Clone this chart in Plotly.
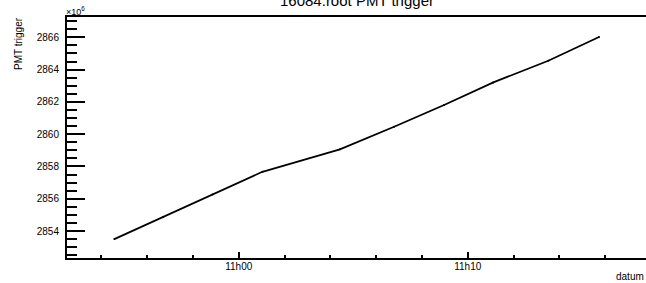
import plotly.graph_objects as go

# data (PMT trigger counts, in units of 1e6)
times = ["2013-01-01 10:54:34", "2013-01-01 10:56:41", "2013-01-01 10:58:51",
         "2013-01-01 11:01:02", "2013-01-01 11:04:25", "2013-01-01 11:06:47",
         "2013-01-01 11:08:58", "2013-01-01 11:11:07", "2013-01-01 11:13:31",
         "2013-01-01 11:15:44"]
trigger_millions = [2853.50, 2854.85, 2856.27, 2857.67, 2859.06, 2860.46,
                    2861.81, 2863.21, 2864.55, 2866.02]

title_text = "16084.root PMT trigger"
x_title = "datum"
y_title = "PMT trigger"

FONT = "Liberation Sans, Arial, Helvetica, sans-serif"

fig = go.Figure()
fig.add_trace(go.Scatter(
    x=times, y=trigger_millions, mode="lines+markers",
    line=dict(color="black", width=1.8),
    marker=dict(color="black", size=2),
    showlegend=False, hoverinfo="skip",
))

W, H = 646, 283
ml, mr, mt, mb = 67, 0, 17, 25
ph = H - mt - mb

fig.update_layout(
    width=W, height=H,
    margin=dict(l=ml, r=mr, t=mt, b=mb, pad=0, autoexpand=False),
    paper_bgcolor="white", plot_bgcolor="white",
    font=dict(family=FONT, size=10, color="black"),
    xaxis=dict(
        type="date", automargin=False,
        range=["2013-01-01 10:52:30", "2013-01-01 11:17:47"],
        tick0="2013-01-01 11:00:00", dtick=600000,
        tickformat="%Hh%M",
        ticks="inside", ticklen=6, tickwidth=2, tickcolor="black",
        minor=dict(dtick=120000, ticks="inside", ticklen=3, tickwidth=2, tickcolor="black"),
        showline=True, linecolor="black", linewidth=2, mirror=True,
        showgrid=False, zeroline=False,
        tickfont=dict(size=10),
        ticklabelstandoff=-2,
    ),
    yaxis=dict(
        automargin=False,
        range=[2852.33, 2867.26],
        tick0=2854, dtick=2,
        ticks="inside", ticklen=18, tickwidth=2, tickcolor="black",
        minor=dict(dtick=0.5, ticks="inside", ticklen=10, tickwidth=2, tickcolor="black"),
        showline=True, linecolor="black", linewidth=2,
        showgrid=False, zeroline=False,
        tickfont=dict(size=10),
        ticklabelstandoff=4,
    ),
    annotations=[
        dict(text=title_text, xref="paper", yref="paper", x=0.5,
             y=(H - mb - 0.5) / ph, xanchor="center", yanchor="middle",
             showarrow=False, font=dict(size=15)),
        dict(text=x_title, xref="paper", yref="paper", x=1.0,
             y=(H - mb - 276) / ph, xanchor="right", yanchor="middle",
             showarrow=False, font=dict(size=10)),
        dict(text=y_title, xref="paper", yref="paper",
             x=(18 - ml) / (W - ml - mr), y=(H - mb - 44) / ph,
             xanchor="center", yanchor="middle", textangle=-90,
             showarrow=False, font=dict(size=10)),
        dict(text="\u00d710<sup>6</sup>", xref="paper", yref="paper",
             x=(64 - ml) / (W - ml - mr), y=(H - mb - 11) / ph,
             xanchor="left", yanchor="middle",
             showarrow=False, font=dict(size=9)),
    ],
)

fig.write_html(
    "out.html",
    config={"displayModeBar": False},
    post_script="document.body.style.margin='0';document.body.style.overflow='hidden';",
)
